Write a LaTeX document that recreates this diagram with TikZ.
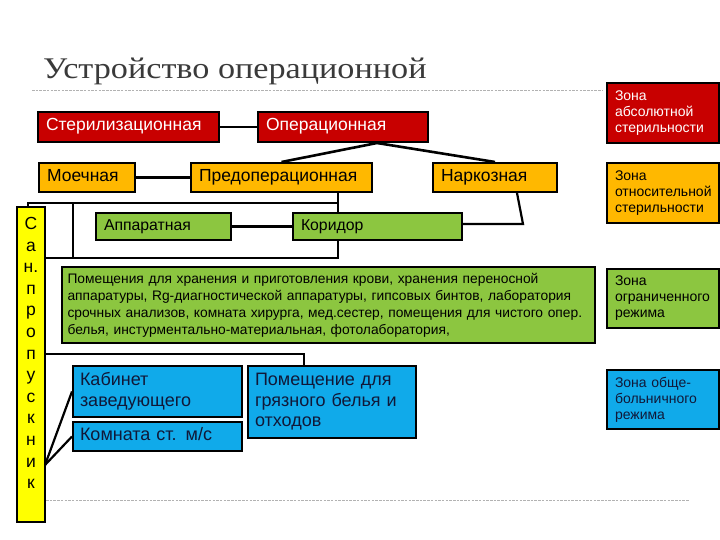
\documentclass[tikz,border=0pt]{standalone}
\usepackage{fontspec}
\setmainfont{Liberation Sans}
\newfontfamily\titlefont{Liberation Serif}
\definecolor{cred}{HTML}{C80000}
\definecolor{corange}{HTML}{FFB800}
\definecolor{cgreen}{HTML}{8CC640}
\definecolor{cblue}{HTML}{10AAEA}
\definecolor{cyel}{HTML}{FFFF00}
\definecolor{cnavy}{HTML}{101838}
\definecolor{cgrayt}{HTML}{3A3A3A}
\tikzset{
  box/.style={draw=black, line width=2pt, rectangle, inner xsep=8pt, inner ysep=0pt, align=left, anchor=center},
  redbox/.style={box, fill=cred, text=white},
  orbox/.style={box, fill=corange, text=black},
  grbox/.style={box, fill=cgreen, text=black},
  blbox/.style={box, fill=cblue, text=cnavy},
  oneline/.style={text height=1em, text depth=0.28em},
  conn/.style={draw=black, line width=2.2pt},
  heavyconn/.style={draw=black, line width=2.6pt},
  deco/.style={draw=black!30, line width=0.7pt, dash pattern=on 2.5pt off 1.2pt},
  bigfont/.style={font=\fontsize{17.5}{20}\selectfont},
  midfont/.style={font=\fontsize{15.8}{18}\selectfont},
  bluefont/.style={font=\fontsize{18}{20.5}\selectfont},
  zonefont/.style={font=\fontsize{14}{16}\selectfont},
  zonebox/.style={minimum width=112, text width=96, inner xsep=0pt},
}
\begin{document}
\begin{tikzpicture}[x=1pt,y=-1pt]
\useasboundingbox (0,0) rectangle (720,540);
% title and template lines
\node[anchor=base west, inner sep=0, text=cgrayt, font=\titlefont\fontsize{30}{32}\selectfont] (title) at (43,79) {\scalebox{1.14}[1]{Устройство операционной}};
\draw[deco] (32,90) -- (603,90);
\draw[deco] (46,500) -- (689,500);
% boxes
\node[redbox, bigfont, oneline, minimum width=181, minimum height=30, text width=165] (ster) at (128.5,127) {Стерилизационная};
\node[redbox, bigfont, oneline, minimum width=170, minimum height=30, text width=154] (oper) at (343,127) {Операционная};
\node[orbox, bigfont, oneline, minimum width=96, minimum height=29, text width=80] (moech) at (87,177.5) {Моечная};
\node[orbox, bigfont, oneline, minimum width=181, minimum height=29, text width=165] (predop) at (281.5,177.5) {Предоперационная};
\node[orbox, bigfont, oneline, minimum width=124, minimum height=29, text width=108] (nark) at (495,177.5) {Наркозная};
\node[grbox, midfont, oneline, minimum width=135, minimum height=27, text width=119] (apparat) at (163.5,226.5) {Аппаратная};
\node[grbox, midfont, oneline, minimum width=169, minimum height=27, text width=153] (korid) at (377.5,226.5) {Коридор};
\node[grbox, font=\fontsize{13.8}{17}\selectfont, minimum width=533, minimum height=76, text width=522, inner xsep=5.5pt] (store) at (328.5,305) {\mbox{Помещения для хранения и приготовления крови, хранения переносной}\\\mbox{аппаратуры, Rg-диагностической аппаратуры, гипсовых бинтов, лаборатория}\\\mbox{срочных анализов, комната хирурга, мед.сестер, помещения для чистого опер.}\\\mbox{белья, инстурментально-материальная, фотолаборатория,}};
\node[blbox, bluefont, minimum width=169, minimum height=51, text width=155, inner xsep=7pt] (kab) at (157.5,391.5) {Кабинет\\заведующего};
\node[blbox, bluefont, oneline, minimum width=169, minimum height=29, text width=155, inner xsep=7pt] (komn) at (157.5,436.5) {Комната ст. м/с};
\node[blbox, bluefont, minimum width=168, minimum height=72, text width=154, inner xsep=7pt] (pom) at (332,402) {Помещение для\\грязного белья и\\отходов};
\node[box, fill=cyel, minimum width=28, minimum height=315] (san) at (31,364.5) {};
\node[anchor=north, inner sep=0, align=center, font=\fontsize{17.5}{21.6}\selectfont] (santext) at (31,217) {С\\а\\н.\\п\\р\\о\\п\\у\\с\\к\\н\\и\\к};
% zone legend
\node[redbox, zonefont, zonebox, minimum height=60] (z1) at (663,113) {Зона\\абсолютной\\стерильности};
\node[orbox, zonefont, zonebox, minimum height=60] (z2) at (663,193) {Зона\\относительной\\стерильности};
\node[grbox, zonefont, zonebox, minimum height=59] (z3) at (663,298.5) {Зона\\ограниченного\\режима};
\node[blbox, zonefont, zonebox, minimum height=59] (z4) at (663,399.5) {Зона обще-\\больничного\\режима};
% junction coordinates
\coordinate (j1) at (338,203);
\coordinate (j2) at (338,258);
\coordinate (j3) at (73,203);
\coordinate (j4) at (73,258);
\coordinate (j5) at (523,224);
\coordinate (j6) at (304,354);
\coordinate (j7) at (45,465);
% connectors
\draw[conn] (ster.east) -- (oper.west);
\draw[heavyconn] ([xshift=34]oper.south) -- (predop.north);
\draw[heavyconn] ([xshift=34]oper.south) -- (nark.north);
\draw[conn] (moech.east) -- (predop.west);
\draw[conn] (j1 |- predop.south) -- (j1 |- korid.north);
\draw[conn] ([xshift=-3]san.north) |- (j1);
\draw[conn] (j3) -- (j4);
\draw[conn] (j2 |- korid.south) -- (j2) -- (j2 -| san.east);
\draw[conn] ([xshift=22]nark.south) -- (j5) -- (j5 -| korid.east);
\draw[conn] (apparat.east) -- (korid.west);
\draw[conn] (j6 -| san.east) -- (j6) -- (j6 |- pom.north);
\draw[conn] (j7) -- (kab.west);
\draw[conn] (j7) -- (komn.west);
\end{tikzpicture}
\end{document}
